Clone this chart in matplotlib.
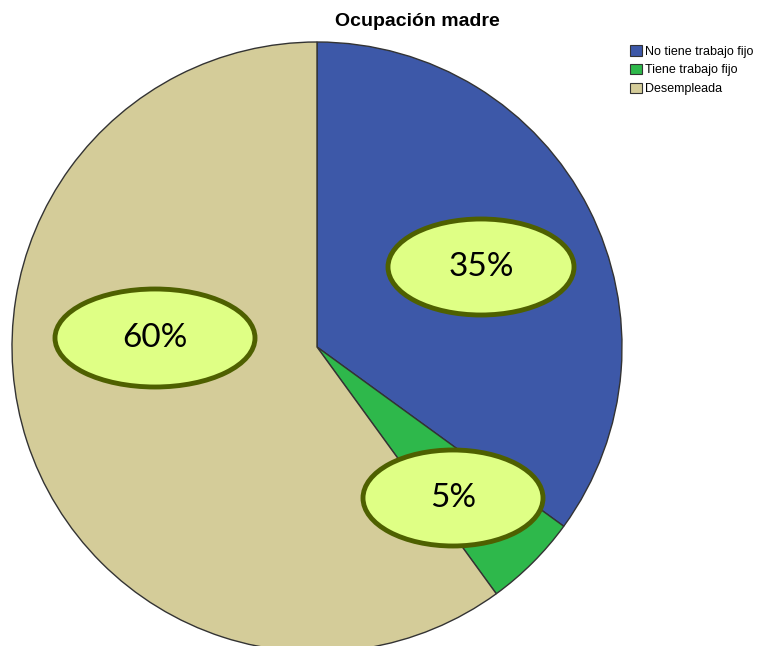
import matplotlib.pyplot as plt
from matplotlib.patches import Ellipse, Patch

categories = ['No tiene trabajo fijo', 'Tiene trabajo fijo', 'Desempleada']
values = [35, 5, 60]
labels = ['35%', '5%', '60%']
colors = ['#3d58a8', '#2eb84b', '#d4cc99']

# label bubble positions (pixels, y from bottom)
label_pos = [(481, 379), (453, 148), (155, 308)]
label_size = [(186, 96), (180, 96), (200, 98)]

fig = plt.figure(figsize=(7.67, 6.46), dpi=100)
ax = fig.add_axes([0, 0, 1, 1])

ax.pie(values, colors=colors, startangle=90, counterclock=False,
       center=(317, 299), radius=305, frame=True,
       wedgeprops=dict(edgecolor='#333333', linewidth=1))
ax.set_xlim(0, 767)
ax.set_ylim(0, 646)
ax.set_aspect('equal')
ax.axis('off')

for (x, y), (w, h), lab in zip(label_pos, label_size, labels):
    ax.add_patch(Ellipse((x, y), w, h, facecolor='#dfff85', edgecolor='#4e6000',
                         linewidth=3.5, zorder=5))
    ax.text(x, y, lab, ha='center', va='center', fontsize=24,
            family='Lato', zorder=6)

fig.text(417 / 767, 1 - 22 / 646, 'Ocupación madre', ha='center', va='center',
         fontsize=14, fontweight='bold', family='Liberation Sans')

handles = [Patch(facecolor=c, edgecolor='#333333', linewidth=0.8) for c in colors]
fig.legend(handles, categories, loc='upper left', bbox_to_anchor=(624 / 767, 1 - 39 / 646),
           frameon=False, handlelength=0.9, handleheight=0.9,
           handletextpad=0.25, labelspacing=0.5, borderpad=0,
           prop={'family': 'Liberation Sans', 'size': 9})

fig.savefig('out.png', dpi=100)
